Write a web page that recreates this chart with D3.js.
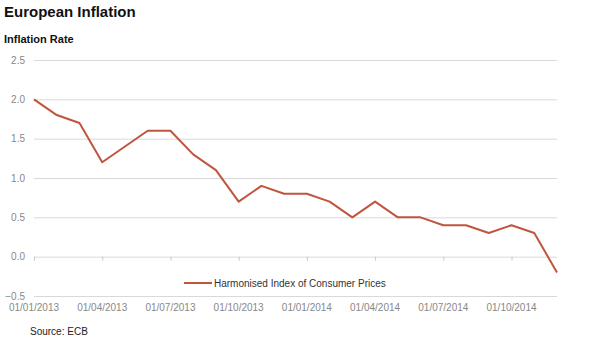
<!DOCTYPE html>
<html><head><meta charset="utf-8">
<script src="https://cdn.jsdelivr.net/npm/d3@7"></script>
<style>body{margin:0;background:#fff;} svg{display:block;font-family:"Liberation Sans",Arial,sans-serif;}</style>
</head><body>
<svg id="c" width="590" height="346"></svg>
<script>
const months = ["01/01/2013","01/02/2013","01/03/2013","01/04/2013","01/05/2013","01/06/2013","01/07/2013","01/08/2013","01/09/2013","01/10/2013","01/11/2013","01/12/2013",
"01/01/2014","01/02/2014","01/03/2014","01/04/2014","01/05/2014","01/06/2014","01/07/2014","01/08/2014","01/09/2014","01/10/2014","01/11/2014","01/12/2014"];
const hicp = [2.0,1.8,1.7,1.2,1.4,1.6,1.6,1.3,1.1,0.7,0.9,0.8,0.8,0.7,0.5,0.7,0.5,0.5,0.4,0.4,0.3,0.4,0.3,-0.2];
const yTicks = [-0.5,0.0,0.5,1.0,1.5,2.0,2.5];
const xTickLabels = ["01/01/2013","01/04/2013","01/07/2013","01/10/2013","01/01/2014","01/04/2014","01/07/2014","01/10/2014"];
const seriesName = "Harmonised Index of Consumer Prices";

const svg = d3.select("#c");
const x = d3.scalePoint().domain(months).range([34,557]);
const y = d3.scaleLinear().domain([-0.5,2.5]).range([296,60]);

svg.append("text").attr("x",4).attr("y",17).attr("font-size",15).attr("font-weight","bold").attr("fill","#111").text("European Inflation");
svg.append("text").attr("x",4).attr("y",43).attr("font-size",11).attr("font-weight","bold").attr("fill","#111").text("Inflation Rate");

// grid
const yAxis = d3.axisLeft(y).tickValues(yTicks).tickSize(-(557-34)).tickFormat(d3.format(".1f")).tickPadding(9);
const gy = svg.append("g").attr("transform","translate(34,0)").call(yAxis);
gy.select(".domain").remove();
gy.selectAll(".tick line").attr("stroke","#d9d9d9").attr("stroke-width",1);
gy.selectAll(".tick text").attr("fill","#888").attr("font-size",10).attr("font-family","Liberation Sans,Arial,sans-serif");

// x tick marks on zero line
const xAxis = d3.axisBottom(x).tickValues(xTickLabels).tickSize(4).tickSizeOuter(0);
const gx = svg.append("g").attr("transform",`translate(0,${y(0)})`).call(xAxis);
gx.select(".domain").remove();
gx.selectAll(".tick line").attr("stroke","#c8c8c8");
gx.selectAll(".tick text").remove();

// x labels at bottom
svg.append("g").selectAll("text").data(xTickLabels).join("text")
  .attr("x",d=>x(d)).attr("y",311).attr("text-anchor","middle")
  .attr("font-size",10).attr("fill","#888").text(d=>d);

// line
const line = d3.line().x((d,i)=>x(months[i])).y(d=>y(d));
svg.append("path").datum(hicp).attr("d",line).attr("fill","none")
  .attr("stroke","#c0553f").attr("stroke-width",2).attr("stroke-linejoin","round");

// legend
svg.append("line").attr("x1",184).attr("x2",212).attr("y1",283).attr("y2",283).attr("stroke","#c0553f").attr("stroke-width",2);
svg.append("text").attr("x",214).attr("y",287).attr("font-size",10).attr("fill","#333").text(seriesName);

svg.append("text").attr("x",30).attr("y",335).attr("font-size",10).attr("fill","#222").text("Source: ECB");
</script>
</body></html>
